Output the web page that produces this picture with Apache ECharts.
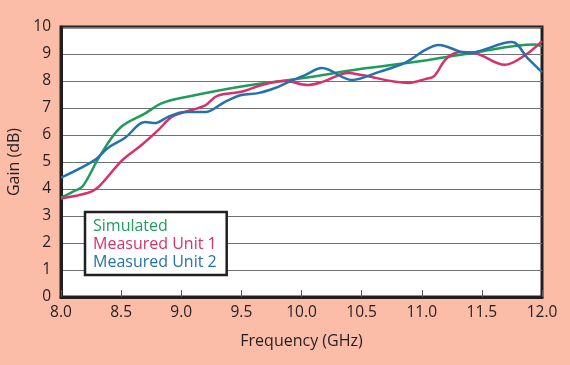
<!DOCTYPE html>
<html><head><meta charset="utf-8">
<script src="https://cdn.jsdelivr.net/npm/echarts@6/dist/echarts.min.js"></script>
<style>html,body{margin:0;padding:0;background:#fbbca8;}#c{width:570px;height:365px;}</style>
</head><body><div id="c"></div>
<script>
var simFreq = [8.0, 8.1, 8.18, 8.32, 8.49, 8.7, 8.84, 9.03, 9.5, 10.0, 10.5, 11.0, 11.43, 11.94, 12.0];
var simGain = [3.67, 3.9, 4.1, 5.2, 6.26, 6.8, 7.18, 7.4, 7.8, 8.1, 8.45, 8.74, 9.05, 9.35, 9.28];

var u1Freq = [8.0, 8.22, 8.31, 8.51, 8.67, 8.81, 8.92, 9.03, 9.2, 9.3, 9.5, 9.67, 9.86, 10.05, 10.17, 10.39, 10.5, 10.89, 11.03, 11.1, 11.21, 11.33, 11.44, 11.69, 11.86, 12.0];
var u1Gain = [3.65, 3.85, 4.07, 5.07, 5.63, 6.19, 6.67, 6.85, 7.1, 7.45, 7.6, 7.85, 8.0, 7.85, 7.96, 8.3, 8.22, 7.93, 8.07, 8.17, 8.85, 9.07, 9.04, 8.6, 8.96, 9.48];

var u2Freq = [8.0, 8.28, 8.39, 8.53, 8.7, 8.78, 8.89, 9.03, 9.2, 9.36, 9.5, 9.64, 9.78, 9.89, 10.03, 10.17, 10.42, 10.64, 10.86, 11.03, 11.14, 11.38, 11.75, 11.88, 12.0];
var u2Gain = [4.42, 5.07, 5.52, 5.89, 6.48, 6.44, 6.67, 6.85, 6.85, 7.22, 7.48, 7.55, 7.74, 7.96, 8.22, 8.48, 8.04, 8.33, 8.67, 9.15, 9.33, 9.04, 9.44, 8.85, 8.33];

var seriesNames = ['Simulated', 'Measured Unit 1', 'Measured Unit 2'];
var seriesColors = ['#1f9c5a', '#d8306b', '#2571ad'];

function pairs(f, g) { return f.map(function (v, i) { return [v, g[i]]; }); }
var datasets = [pairs(simFreq, simGain), pairs(u1Freq, u1Gain), pairs(u2Freq, u2Gain)];

var txt = '#231f20';
var font = 'Open Sans';
var chart = echarts.init(document.getElementById('c'));
chart.setOption({
  backgroundColor: '#fbbca8',
  animation: false,
  textStyle: { fontFamily: font },
  grid: { left: 61, right: 28, top: 27, bottom: 68, outerBoundsMode: 'none', containLabel: false,
    show: true, backgroundColor: '#fff', borderColor: txt, borderWidth: 3 },
  legend: {
    orient: 'vertical', left: 85, top: 212, icon: 'none', itemWidth: 0, itemGap: 0, itemHeight: 14,
    backgroundColor: '#fff', borderColor: txt, borderWidth: 2.5, padding: [5, 10, 4, 3],
    data: seriesNames.map(function (n, i) { return { name: n, textStyle: { color: seriesColors[i], fontSize: 16, fontFamily: font, lineHeight: 18 } }; })
  },
  xAxis: {
    type: 'value', min: 8, max: 12, interval: 0.5,
    name: 'Frequency (GHz)', nameLocation: 'middle', nameGap: 36,
    nameTextStyle: { color: txt, fontSize: 16, fontFamily: font },
    axisLine: { lineStyle: { color: txt, width: 3 } },
    axisTick: { inside: true, length: 7, lineStyle: { color: '#555', width: 1 } },
    axisLabel: { color: txt, fontSize: 15.5, margin: 8, formatter: function (v) { return v.toFixed(1); } },
    splitLine: { show: false }
  },
  yAxis: {
    type: 'value', min: 0, max: 10, interval: 1,
    name: 'Gain (dB)', nameLocation: 'middle', nameGap: 34,
    nameTextStyle: { color: txt, fontSize: 16, fontFamily: font },
    axisLine: { show: true, lineStyle: { color: txt, width: 3 } },
    axisTick: { show: false },
    axisLabel: { color: txt, fontSize: 15.5, margin: 10 },
    splitLine: { lineStyle: { color: '#707070', width: 1.2 } }
  },
  series: datasets.map(function (d, i) {
    return { name: seriesNames[i], type: 'line', data: d, smooth: 0.35, showSymbol: false, symbol: 'none',
      lineStyle: { color: seriesColors[i], width: 2.5 }, itemStyle: { color: seriesColors[i] } };
  })
});
</script></body></html>
